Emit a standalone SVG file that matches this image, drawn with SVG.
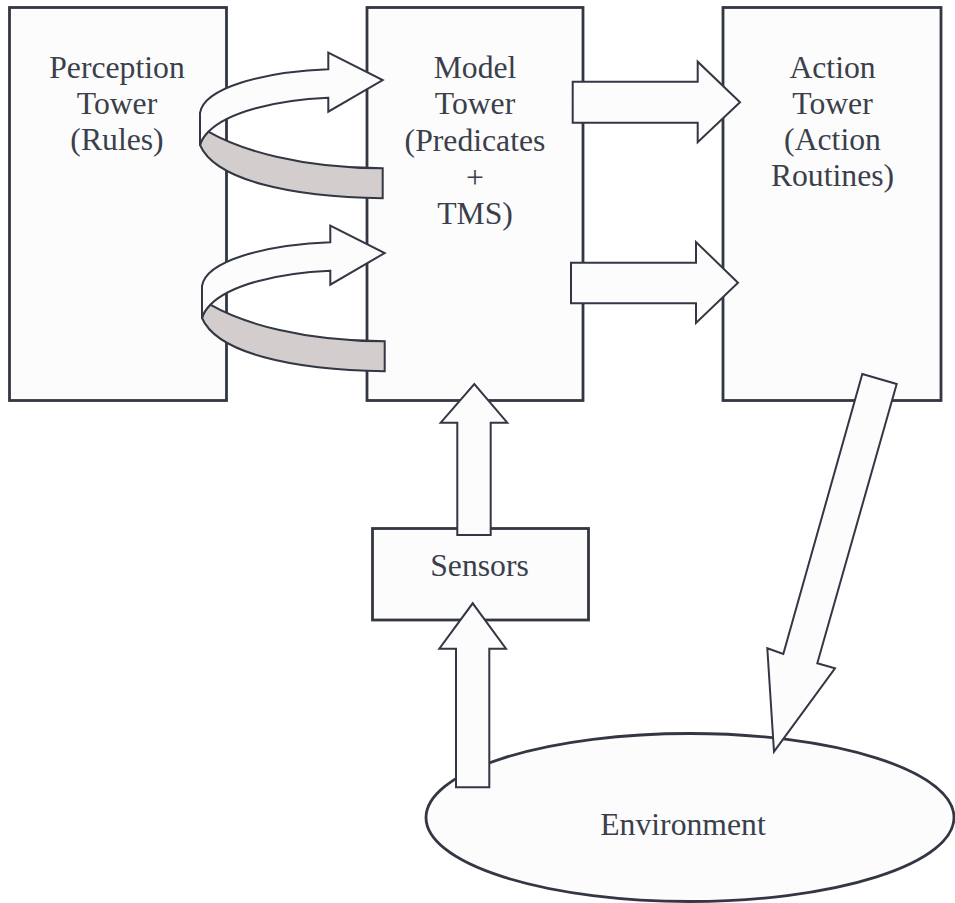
<svg xmlns="http://www.w3.org/2000/svg" width="955" height="903" viewBox="0 0 955 903">
<style>
.box{fill:#fcfcfc;stroke:#323743;stroke-width:2.8}
.arr{fill:#fcfcfc;stroke:#323743;stroke-width:2;stroke-linejoin:miter}
.band{fill:#d3cecd;stroke:#323743;stroke-width:2}
.t{font-family:'Liberation Serif','Times New Roman',serif;font-size:31.7px;fill:#3a3f4b;text-anchor:middle}
</style>
<defs>
<g id="spiral">
<path class="band" d="M208.3,131.7 C240,150 300,168 382.7,168.3 L382.7,198.3 C290,197 215,180 200,145 Q202,138 208.3,131.7 Z"/>
<path class="arr" d="M328.3,69.3 L328.3,52.7 L382.7,80 L328.3,111.7 L328.3,97.7 C275,100 228,112 208.3,131.7 Q202,138 200,145 L200,113 C204,88 262,72 328.3,69.3 Z"/>
</g>
</defs>
<rect width="955" height="903" fill="#ffffff"/>
<g id="perception">
<rect class="box" x="9.5" y="7.5" width="217" height="393"/>
<text class="t" x="117" y="78">Perception</text>
<text class="t" x="117" y="114">Tower</text>
<text class="t" x="117" y="150">(Rules)</text>
</g>
<g id="model">
<rect class="box" x="367" y="7.5" width="216" height="393"/>
<text class="t" x="475" y="77.5">Model</text>
<text class="t" x="475" y="114">Tower</text>
<text class="t" x="475" y="150.5">(Predicates</text>
<text class="t" x="475" y="187.5">+</text>
<text class="t" x="475" y="224">TMS)</text>
</g>
<g id="action">
<rect class="box" x="723" y="7.5" width="218" height="393"/>
<text class="t" x="832.5" y="78">Action</text>
<text class="t" x="832.5" y="114">Tower</text>
<text class="t" x="832.5" y="150">(Action</text>
<text class="t" x="832.5" y="186">Routines)</text>
</g>
<g id="sensors">
<rect class="box" x="372.5" y="528.5" width="216" height="91.5"/>
<text class="t" x="479.5" y="576">Sensors</text>
</g>
<g id="environment">
<ellipse class="box" cx="690" cy="817.5" rx="264" ry="84"/>
<text class="t" x="683" y="835">Environment</text>
</g>
<g id="connectors">
<use href="#spiral"/>
<use href="#spiral" transform="translate(2,173)"/>
<polygon class="arr" points="572.7,81.7 697.7,81.7 697.7,61.7 740,102.3 697.7,142.3 697.7,122.7 572.7,122.7"/>
<polygon class="arr" points="571,262.7 696,262.7 696,242 738,282.7 696,323 696,303.3 571,303.3"/>
<polygon class="arr" points="457.3,535 457.3,422.7 440.7,422.7 474.3,384 507.3,422.7 490.7,422.7 490.7,535"/>
<polygon class="arr" points="456,787.3 456,648.7 439.3,648.7 472.7,603.3 506,648.7 489.3,648.7 489.3,787.3"/>
<polygon class="arr" points="862.3,374 896.7,384 817.3,663.3 835,668.3 774,751.7 767.3,648.3 783.3,654"/>
</g>
</svg>
